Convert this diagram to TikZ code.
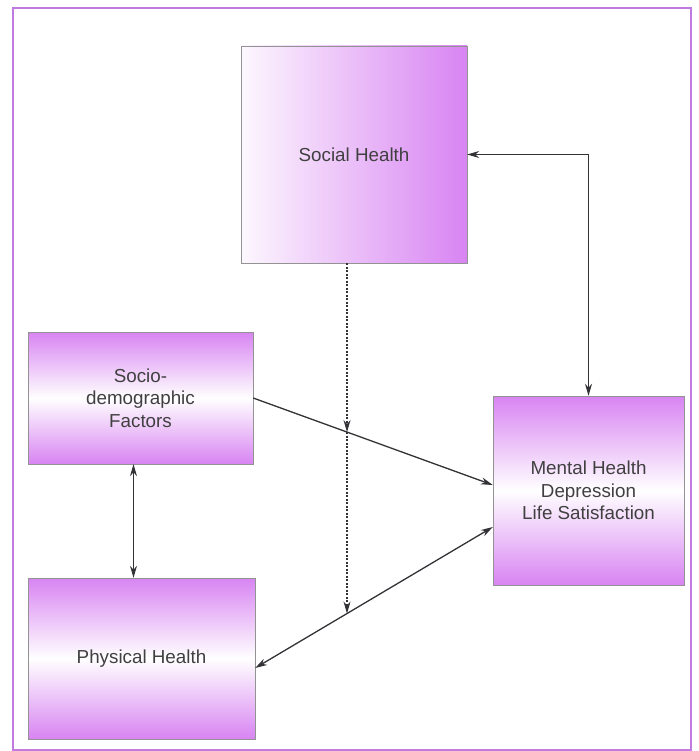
\documentclass[tikz,border=0pt]{standalone}
\usepackage{fontspec}
\setmainfont{Liberation Sans}
\usetikzlibrary{arrows.meta,intersections}
\definecolor{boxviolet}{RGB}{216,132,242}
\definecolor{framevio}{RGB}{192,122,224}
\definecolor{linkgray}{RGB}{50,50,55}
\tikzset{
    health-box/.style = {draw=gray!85, thin, rectangle, inner sep=0pt, align=center, text=black!75, font=\fontsize{18.8}{22.5}\selectfont},
    side-shade/.style = {health-box, left color=boxviolet!6, right color=boxviolet},
    band-shade/.style = {health-box, top color=boxviolet, bottom color=boxviolet, middle color=white},
    link/.style = {draw=linkgray, line width=1.3pt},
    link-dashed/.style = {link, line width=1.1pt, dash pattern=on 2pt off 1.5pt},
}

\begin{document}
\begin{tikzpicture}[x=1pt, y=-1pt, >={Stealth[length=12pt,width=7pt]}]
\useasboundingbox (0,0) rectangle (698,751);
\draw[framevio, line width=2pt] (13,8) rectangle (691,750);

\node[side-shade, minimum width=226pt, minimum height=217pt] (social) at (354,154.5) {Social Health};
\node[band-shade, minimum width=225pt, minimum height=132pt] (socio) at (140.5,398) {Socio-\\demographic\\Factors};
\node[band-shade, minimum width=191pt, minimum height=189pt] (mental) at (588.5,490.5) {Mental Health\\Depression\\Life Satisfaction};
\node[band-shade, minimum width=227pt, minimum height=161pt] (physical) at (141.5,658.5) {Physical Health};

\draw[link, <->] (social.east) -| (mental.north);
\draw[link, ->, name path=socio-line] (socio.east) -- ([yshift=5.5pt]mental.west);
\draw[link, <->, name path=phys-line] ([yshift=-9.5pt]physical.east) -- ([yshift=-36.5pt]mental.west);
\draw[link, <->] ([xshift=-7pt]socio.south) -- ([xshift=-7pt]socio.south |- physical.north);

\path[name path=drop] ([xshift=-7pt]social.south) -- ++(0,500);
\path[name intersections={of=drop and socio-line, by=cross-a}];
\path[name intersections={of=drop and phys-line, by=cross-b}];
\draw[link-dashed, ->] ([xshift=-7pt]social.south) -- (cross-a);
\draw[link-dashed, ->] (cross-a) -- (cross-b);
\end{tikzpicture}
\end{document}
